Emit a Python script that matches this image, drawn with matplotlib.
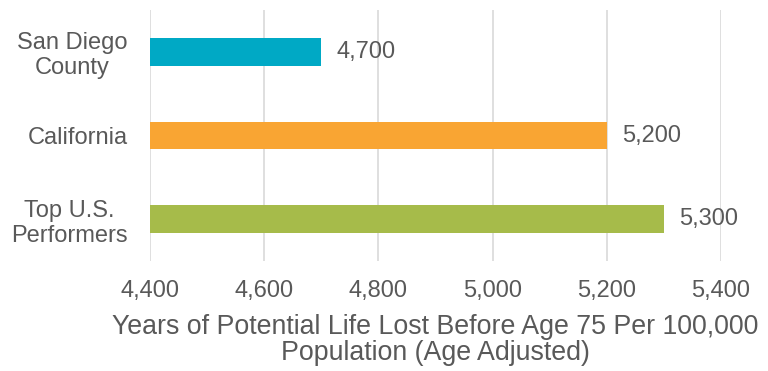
import matplotlib.pyplot as plt

# 데이터
categories = ["San Diego\nCounty", "California", "Top U.S.\nPerformers"]
values = [4700, 5200, 5300]
bar_colors = ["#00A9C5", "#F9A533", "#A6BB4A"]
xticks = [4400, 4600, 4800, 5000, 5200, 5400]

plt.rcParams['font.family'] = ['Liberation Sans', 'DejaVu Sans']
gray = "#595959"
fs = 17

fig = plt.figure(figsize=(7.68, 3.71), dpi=100)
ax = fig.add_axes([150 / 768, 1 - 261 / 371, 571 / 768, 251 / 371])

ypos = list(range(len(categories)))
ax.barh(ypos, values, height=0.33, color=bar_colors, zorder=3)
ax.set_xlim(4400, 5400)
ax.set_ylim(2.5, -0.5)

for y, v in zip(ypos, values):
    ax.text(v + 26, y, f"{v:,}", va="center", ha="left", fontsize=fs, color=gray)

ax.set_yticks(ypos)
ax.set_yticklabels(categories, fontsize=fs, color=gray, multialignment="center", linespacing=1.18)
ax.set_xticks(xticks)
ax.set_xticklabels([f"{t:,}" for t in xticks], fontsize=fs, color=gray)
ax.tick_params(axis="both", length=0)
ax.tick_params(axis="y", pad=16)
ax.tick_params(axis="x", pad=14)

ax.grid(axis="x", color="#D9D9D9", linewidth=1.2, zorder=0)
ax.grid(axis="y", visible=False)
for s in ax.spines.values():
    s.set_visible(False)

ax.set_xlabel("Years of Potential Life Lost Before Age 75 Per 100,000\nPopulation (Age Adjusted)",
              fontsize=19.3, color=gray, labelpad=8, linespacing=1.04)

fig.savefig("out.png", dpi=100)
